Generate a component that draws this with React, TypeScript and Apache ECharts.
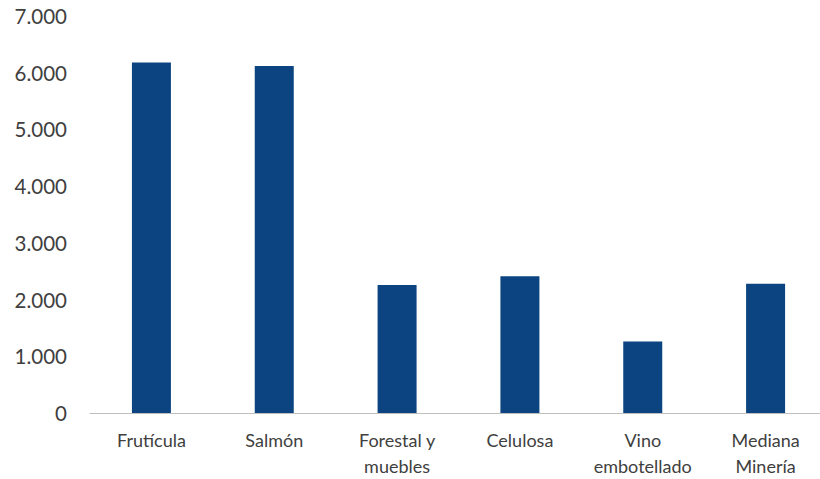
import React, { useEffect, useRef } from "react";
import * as echarts from "echarts";

const categories = ["Frutícula", "Salmón", "Forestal y\nmuebles", "Celulosa", "Vino\nembotellado", "Mediana\nMinería"];
const values = [6180, 6120, 2255, 2410, 1260, 2280];
const yTicks = [0, 1000, 2000, 3000, 4000, 5000, 6000, 7000];

function fmt(v: number): string {
  return String(v).replace(/\B(?=(\d{3})+(?!\d))/g, ".");
}

export default function App() {
  const ref = useRef<HTMLDivElement>(null);
  useEffect(() => {
    document.body.style.margin = "0";
    const chart = echarts.init(ref.current!, null, { renderer: "svg" });
    chart.setOption({
      animation: false,
      backgroundColor: "#ffffff",
      grid: { left: 90, top: 16, width: 737, height: 399, containLabel: false },
      xAxis: {
        type: "category",
        data: categories,
        axisLine: { lineStyle: { color: "#bfbfbf", width: 1 } },
        axisTick: { show: false },
        axisLabel: {
          color: "#404040",
          fontFamily: "Lato",
          fontSize: 18,
          lineHeight: 26,
          margin: 14,
          interval: 0,
        },
      },
      yAxis: {
        type: "value",
        min: 0,
        max: yTicks[yTicks.length - 1],
        interval: 1000,
        splitLine: { show: false },
        axisLine: { show: false },
        axisTick: { show: false },
        axisLabel: {
          color: "#404040",
          fontFamily: "Lato",
          fontSize: 20.5,
          margin: 23,
          formatter: (v: number) => fmt(v),
        },
      },
      series: [
        {
          type: "bar",
          data: values,
          barWidth: 39,
          itemStyle: { color: "#0b4480" },
        },
      ],
    });
    return () => chart.dispose();
  }, []);
  return (
    <div style={{ width: 820, height: 479, overflow: "hidden" }}>
      <div ref={ref} style={{ width: 830, height: 479 }} />
    </div>
  );
}
